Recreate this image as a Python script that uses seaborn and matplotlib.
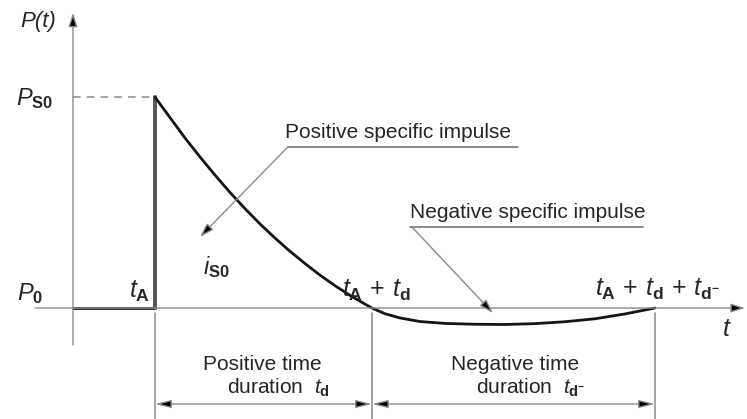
import pandas as pd
import seaborn as sns
import matplotlib.pyplot as plt

# Friedlander-type blast wave sketch
# time in units of t_A, pressure in units of P_s0 (ambient = 0)
t_arrival = 1.0
t_pos_end = 3.646
t_neg_end = 7.098
p_peak = 1.0
p_ambient = 0.0

t_curve = [1.000, 1.183, 1.366, 1.549, 1.732, 1.915, 2.098, 2.280, 2.463, 2.646,
           2.829, 3.012, 3.195, 3.378, 3.524, 3.646, 3.805, 3.988, 4.232, 4.537,
           4.902, 5.268, 5.634, 5.999, 6.366, 6.732, 7.098]
p_curve = [1.000, 0.903, 0.806, 0.716, 0.630, 0.548, 0.471, 0.399, 0.332, 0.269,
           0.211, 0.156, 0.106, 0.060, 0.027, 0.000, -0.027, -0.047, -0.064, -0.073,
           -0.077, -0.078, -0.074, -0.065, -0.051, -0.028, 0.000]

labels = {
    "pos_impulse": "Positive specific impulse",
    "neg_impulse": "Negative specific impulse",
    "pos_dur": "Positive time",
    "neg_dur": "Negative time",
}

sns.set_theme(style="white")
plt.rcParams["font.family"] = ["Liberation Sans", "DejaVu Sans"]
plt.rcParams["mathtext.fontset"] = "custom"
plt.rcParams["mathtext.rm"] = "Liberation Sans"
plt.rcParams["mathtext.it"] = "Liberation Sans:italic"
plt.rcParams["mathtext.bf"] = "Liberation Sans:bold"

df = pd.DataFrame({"t": t_curve, "p": p_curve})

fig = plt.figure(figsize=(7.47, 4.19), dpi=100)
ax = fig.add_axes([0, 0, 1, 1])
ax.set_xlim(-0.890, 8.220)
ax.set_ylim(-0.526, 1.460)
ax.axis("off")

gray = "#8a8a8a"
txt = "#262626"
arrow_kw = dict(arrowstyle="-|>,head_length=0.7,head_width=0.22", ec=gray, fc="black",
                lw=1.0, mutation_scale=12, shrinkA=0, shrinkB=0)

# axes of the sketch
ax.annotate("", xy=(8.196, p_ambient), xytext=(-0.463, p_ambient), arrowprops=arrow_kw)
ax.annotate("", xy=(0, 1.40), xytext=(0, -0.175), arrowprops=arrow_kw)

# ambient part before arrival and the shock front
ax.plot([0, t_arrival], [p_ambient, p_ambient], color="#333333", lw=2.2)
ax.plot([t_arrival, t_arrival], [p_ambient, p_peak], color="#555555", lw=2.8)
ax.plot([0, t_arrival], [p_peak, p_peak], color=gray, lw=1.1, ls=(0, (5, 4)))

# pressure decay
sns.lineplot(data=df, x="t", y="p", ax=ax, color="#151515", lw=2.0, sort=False)

# extension lines and dimension lines
for tx in [t_arrival, t_pos_end, t_neg_end]:
    ax.plot([tx, tx], [-0.024, -0.526], color=gray, lw=1.1)
dim_y = -0.455
dim_kw = dict(arrow_kw, arrowstyle="<|-|>,head_length=0.8,head_width=0.2")
for a, b in [(t_arrival, t_pos_end), (t_pos_end, t_neg_end)]:
    ax.annotate("", xy=(b, dim_y), xytext=(a, dim_y), arrowprops=dim_kw)

# leader lines for the impulses
ax.plot([2.622, 5.428], [0.764, 0.764], color=gray, lw=1.4)
ax.annotate("", xy=(1.549, 0.337), xytext=(2.622, 0.764), arrowprops=arrow_kw)
ax.text(2.586, 0.830, labels["pos_impulse"], fontsize=15, color=txt,
        ha="left", va="center")

ax.plot([4.110, 6.951], [0.384, 0.384], color=gray, lw=1.4)
ax.annotate("", xy=(5.122, -0.024), xytext=(4.134, 0.384), arrowprops=arrow_kw)
ax.text(4.110, 0.455, labels["neg_impulse"], fontsize=15, color=txt,
        ha="left", va="center")

# symbols
ax.text(-0.426, 1.356, "P(t)", fontsize=16, style="italic", color=txt, ha="center", va="center")
ax.text(-0.463, 0.995, r"$\mathit{P}_{\mathbf{S0}}$", fontsize=17, color=txt, ha="center", va="center")
ax.text(-0.524, 0.070, r"$\mathit{P}_{\mathbf{0}}$", fontsize=17, color=txt, ha="center", va="center")
ax.text(0.94, 0.080, r"$\mathit{t}_{\mathbf{A}}$", fontsize=18, color=txt, ha="right", va="center")
ax.text(1.586, 0.195, r"$\mathit{i}_{\mathbf{S0}}$", fontsize=17, color=txt, ha="left", va="center")
ax.text(3.695, 0.085, r"$\mathit{t}_{\mathbf{A}}\,+\,\mathit{t}_{\mathbf{d}}$", fontsize=18,
        color=txt, ha="center", va="center")
ax.text(7.123, 0.090,
        r"$\mathit{t}_{\mathbf{A}}\,+\,\mathit{t}_{\mathbf{d}}\,+\,\mathit{t}_{\mathbf{d}^{\mathbf{-}}}$",
        fontsize=18, color=txt, ha="center", va="center")
ax.text(7.976, -0.100, r"$\mathit{t}$", fontsize=18, color=txt, ha="center", va="center")

# durations
ax.text(2.305, -0.270, labels["pos_dur"], fontsize=15, color=txt, ha="center", va="center")
ax.text(2.500, -0.379, r"duration  $\mathit{t}_{\mathbf{d}}$", fontsize=15, color=txt,
        ha="center", va="center")
ax.text(5.390, -0.270, labels["neg_dur"], fontsize=15, color=txt, ha="center", va="center")
ax.text(5.580, -0.379, r"duration  $\mathit{t}_{\mathbf{d}^{\mathbf{-}}}$", fontsize=15,
        color=txt, ha="center", va="center")

fig.savefig("out.png", dpi=100)
